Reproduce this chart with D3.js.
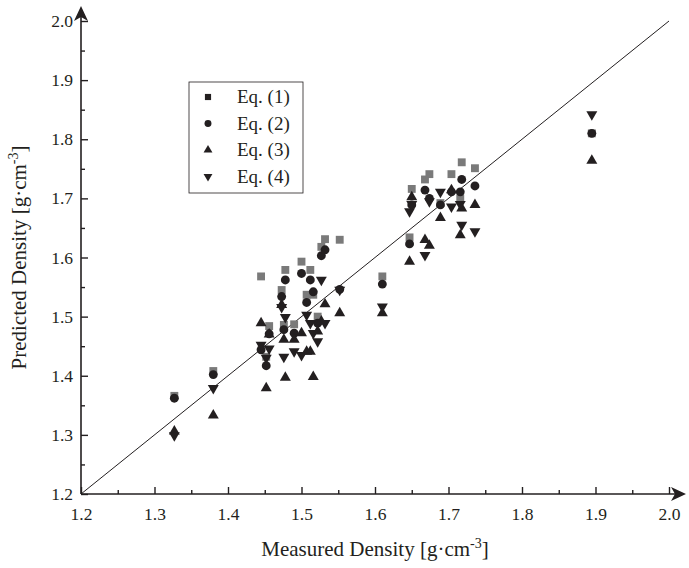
<!DOCTYPE html>
<html>
<head>
    <meta charset="utf-8">
    <script src="https://d3js.org/d3.v7.min.js"></script>
    <style>
        body { margin: 0; background: #fff; }
        text { font-family: "Liberation Serif", "Times New Roman", serif; fill: #231f20; }
    </style>
    <title>Predicted vs Measured Density</title>
</head>
<body>
<div class="chart-wrap"></div>
<script>
// measured density of each sample
var measured = [1.327, 1.380, 1.445, 1.452, 1.456, 1.473, 1.478, 1.476, 1.490, 1.500,
                1.507, 1.512, 1.516, 1.522, 1.527, 1.532, 1.552, 1.610, 1.647, 1.650,
                1.668, 1.674, 1.689, 1.704, 1.718, 1.716, 1.736, 1.895];
// predicted density, one list per equation
var eq1 = [1.366, 1.408, 1.568, 1.432, 1.484, 1.545, 1.579, 1.486, 1.487, 1.593,
           1.537, 1.579, 1.537, 1.500, 1.618, 1.631, 1.630, 1.568, 1.634, 1.716,
           1.732, 1.741, 1.692, 1.741, 1.761, 1.700, 1.751, 1.810];
var eq2 = [1.362, 1.402, 1.444, 1.417, 1.471, 1.534, 1.562, 1.478, 1.472, 1.573,
           1.524, 1.562, 1.542, 1.489, 1.603, 1.613, 1.546, 1.555, 1.623, 1.689,
           1.714, 1.700, 1.689, 1.711, 1.732, 1.711, 1.721, 1.810];
var eq3 = [1.306, 1.333, 1.489, 1.379, 1.470, 1.520, 1.397, 1.461, 1.461, 1.472,
           1.441, 1.441, 1.398, 1.475, 1.492, 1.521, 1.506, 1.506, 1.593, 1.702,
           1.630, 1.620, 1.667, 1.714, 1.683, 1.638, 1.689, 1.764];
var eq4 = [1.299, 1.379, 1.452, 1.430, 1.446, 1.516, 1.499, 1.432, 1.441, 1.435,
           1.503, 1.489, 1.472, 1.458, 1.562, 1.489, 1.545, 1.517, 1.678, 1.690,
           1.604, 1.695, 1.711, 1.686, 1.655, 1.690, 1.644, 1.842];
var seriesNames = ["Eq. (1)", "Eq. (2)", "Eq. (3)", "Eq. (4)"];
var tickLabels = ["1.2", "1.3", "1.4", "1.5", "1.6", "1.7", "1.8", "1.9", "2.0"];

var serif = "'Liberation Serif', 'Times New Roman', serif";
var w = 689, h = 568;
var margin = {top: 21, right: 20, bottom: 74, left: 81};

var svg = d3.select(".chart-wrap").append("svg")
    .attr("width", w)
    .attr("height", h);

var x = d3.scaleLinear().domain([1.2, 2.0]).range([margin.left, w - margin.right]);
var y = d3.scaleLinear().domain([1.2, 2.0]).range([h - margin.bottom, margin.top]);

var majors = tickLabels.map(Number);
var minors = majors.slice(0, -1).map(function (d) { return +(d + 0.05).toFixed(2); });

// x axis
var gx = svg.append("g").attr("transform", "translate(0," + y(1.2) + ")");
gx.call(d3.axisBottom(x).tickValues(majors).tickSize(-7).tickPadding(14)
    .tickFormat(function (d, i) { return tickLabels[i]; }));
gx.append("g").call(d3.axisBottom(x).tickValues(minors).tickSize(-4).tickFormat(""));

// y axis
var gy = svg.append("g").attr("transform", "translate(" + x(1.2) + ",0)");
gy.call(d3.axisLeft(y).tickValues(majors).tickSize(-7).tickPadding(8)
    .tickFormat(function (d, i) { return tickLabels[i]; }));
gy.append("g").call(d3.axisLeft(y).tickValues(minors).tickSize(-4).tickFormat(""));

svg.selectAll(".domain").remove();
svg.selectAll(".tick line").attr("stroke", "#231f20").attr("stroke-width", 1.4);
svg.selectAll(".tick text")
    .attr("font-family", null)
    .style("font-family", serif)
    .style("font-size", "17.5px")
    .attr("fill", "#231f20");
gx.attr("font-family", null);
gy.attr("font-family", null);

// axis lines with arrow heads
svg.append("line")
    .attr("x1", x(1.2)).attr("x2", w - 8)
    .attr("y1", y(1.2)).attr("y2", y(1.2))
    .attr("stroke", "#231f20").attr("stroke-width", 1.6);
svg.append("path")
    .attr("d", "M" + (w - 3) + "," + y(1.2) + " l-15,-7 l4,7 l-4,7 z")
    .attr("fill", "#231f20");
svg.append("line")
    .attr("x1", x(1.2)).attr("x2", x(1.2))
    .attr("y1", y(1.2)).attr("y2", 12)
    .attr("stroke", "#231f20").attr("stroke-width", 1.6);
svg.append("path")
    .attr("d", "M" + x(1.2) + ",6 l-7,15 l7,-4 l7,4 z")
    .attr("fill", "#231f20");

// 1:1 line
svg.append("line")
    .attr("x1", x(1.2)).attr("y1", y(1.2))
    .attr("x2", x(2.0)).attr("y2", y(2.0))
    .attr("stroke", "#231f20").attr("stroke-width", 1);

var shapes = [
    {data: eq1, type: d3.symbolSquare, size: 62, rot: 0, color: "#7a7a7a"},
    {data: eq2, type: d3.symbolCircle, size: 62, rot: 0, color: "#231f20"},
    {data: eq3, type: d3.symbolTriangle, size: 52, rot: 0, color: "#231f20"},
    {data: eq4, type: d3.symbolTriangle, size: 52, rot: 180, color: "#231f20"}
];

shapes.forEach(function (s) {
    svg.append("g").selectAll("path")
        .data(measured)
        .enter().append("path")
        .attr("d", d3.symbol().type(s.type).size(s.size))
        .attr("transform", function (d, i) {
            return "translate(" + x(d) + "," + y(s.data[i]) + ") rotate(" + s.rot + ")";
        })
        .attr("fill", s.color);
});

// legend
var lg = svg.append("g").attr("transform", "translate(189,82)");
lg.append("rect").attr("width", 114).attr("height", 111)
    .attr("fill", "#fff").attr("stroke", "#231f20").attr("stroke-width", 0.8);
seriesNames.forEach(function (name, i) {
    var cy = 15 + i * 26.5;
    lg.append("path")
        .attr("d", d3.symbol().type(shapes[i].type).size(i < 2 ? 38 : 34))
        .attr("transform", "translate(19," + cy + ") rotate(" + shapes[i].rot + ")")
        .attr("fill", "#231f20");
    lg.append("text").attr("x", 48).attr("y", cy + 6)
        .style("font-size", "19px").text(name);
});

// axis titles
var xt = svg.append("text")
    .attr("x", (x(1.2) + x(2.0)) / 2).attr("y", 556)
    .attr("text-anchor", "middle").style("font-size", "21px");
xt.append("tspan").text("Measured Density [g\u00b7cm");
xt.append("tspan").attr("dy", -8).style("font-size", "14px").text("-3");
xt.append("tspan").attr("dy", 8).text("]");

var yt = svg.append("text")
    .attr("transform", "translate(26," + (y(1.6)) + ") rotate(-90)")
    .attr("text-anchor", "middle").style("font-size", "21px");
yt.append("tspan").text("Predicted Density [g\u00b7cm");
yt.append("tspan").attr("dy", -8).style("font-size", "14px").text("-3");
yt.append("tspan").attr("dy", 8).text("]");
</script>
</body>
</html>
